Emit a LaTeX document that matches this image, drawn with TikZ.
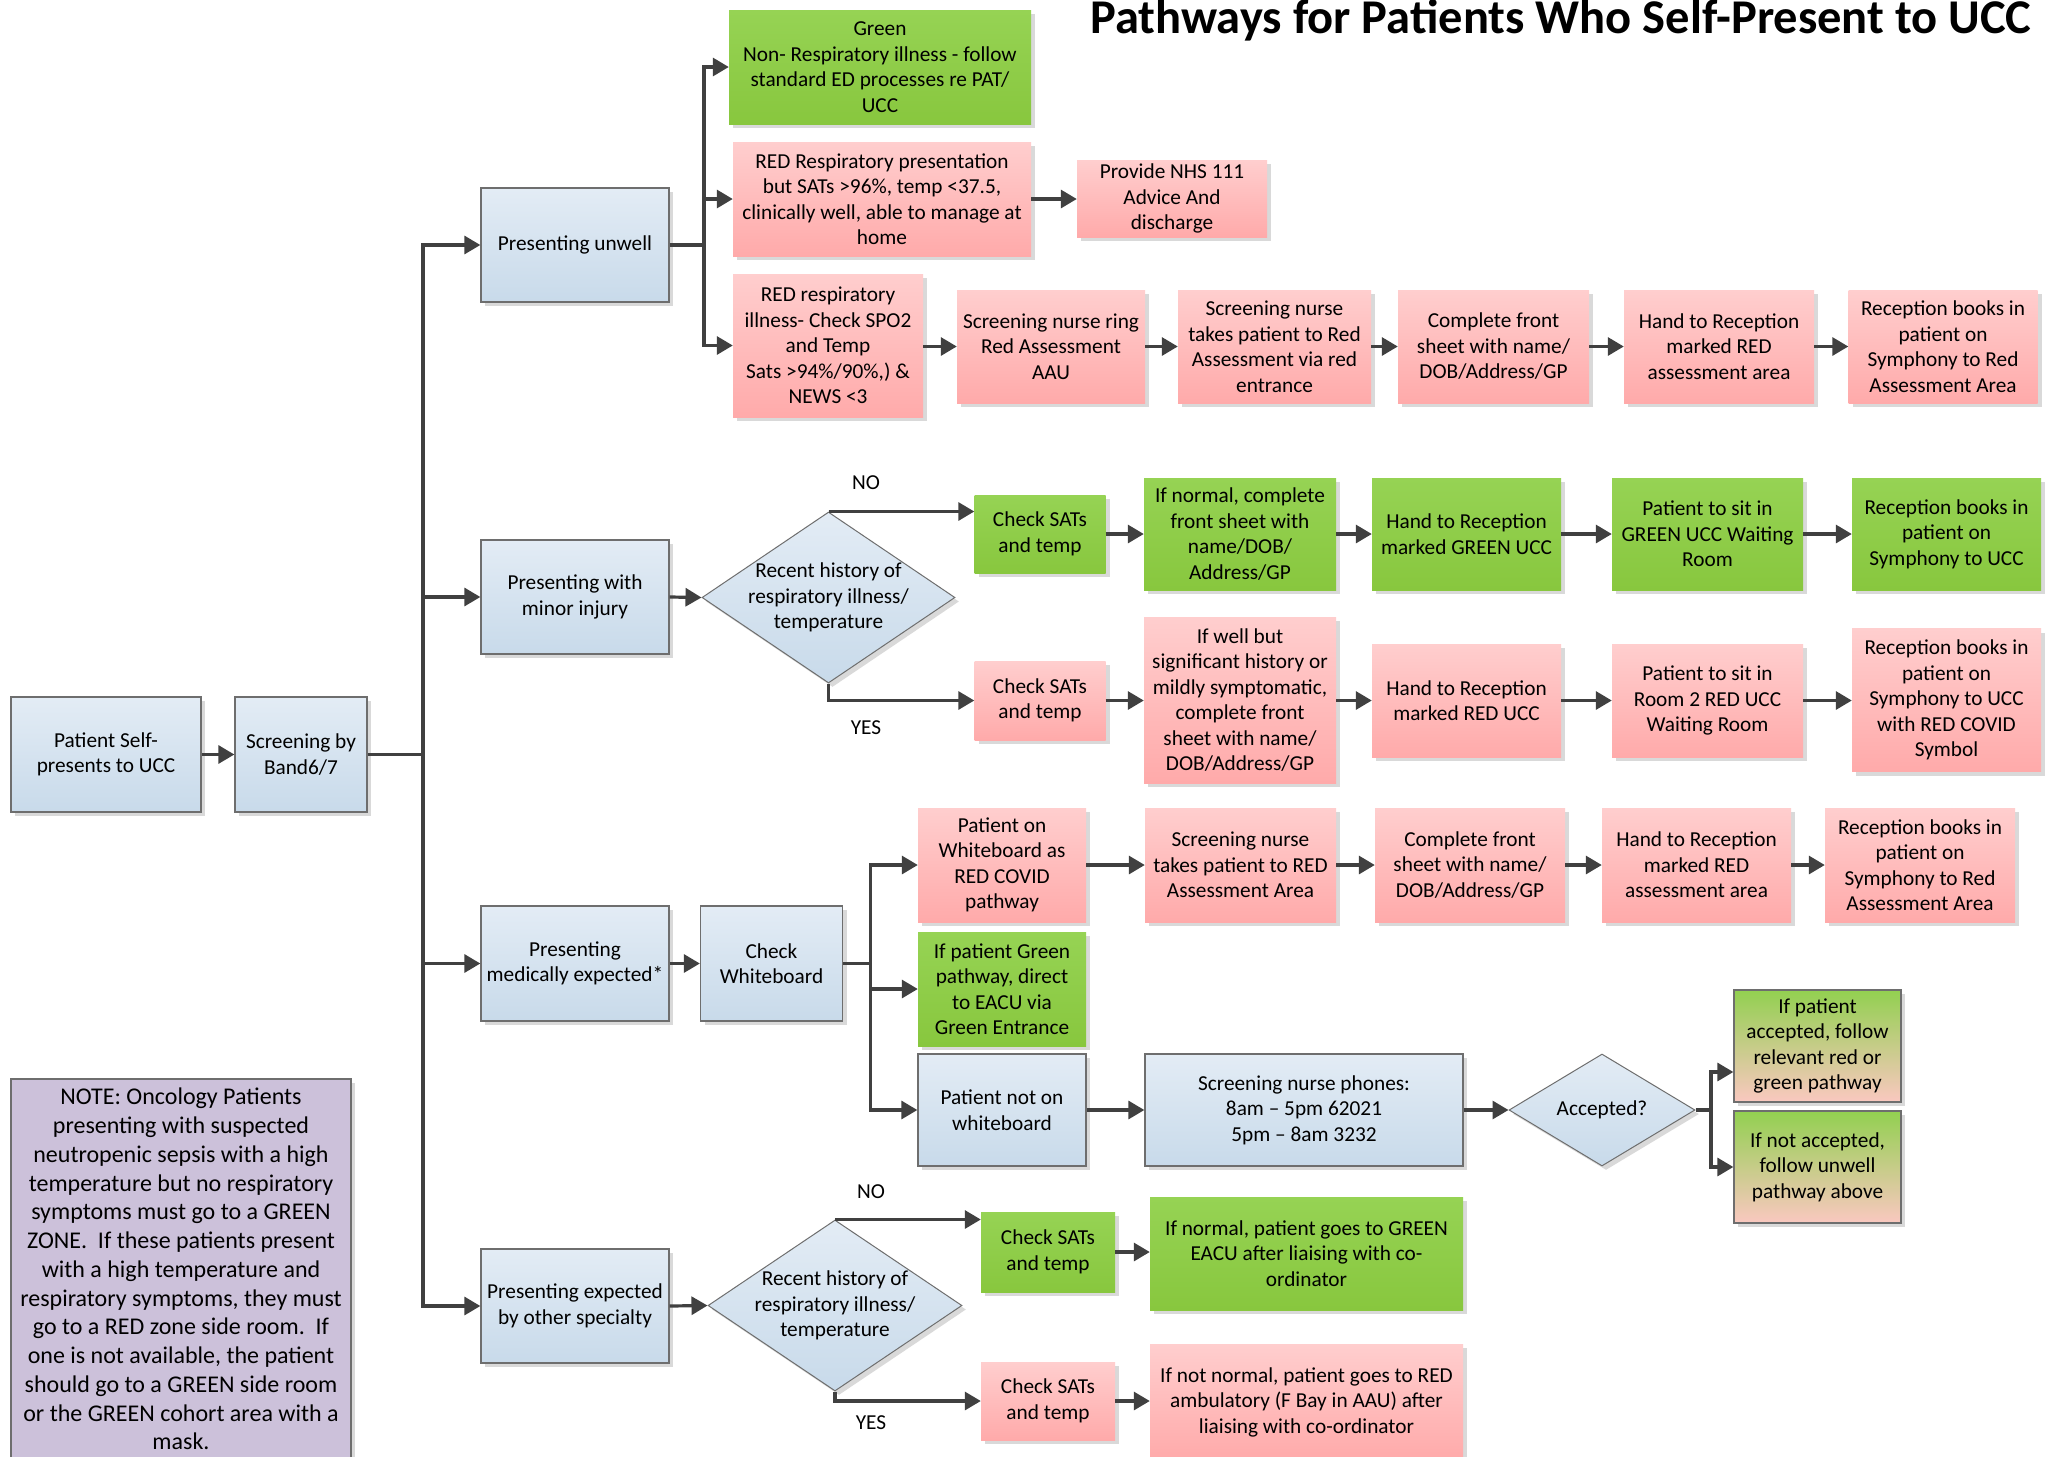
\documentclass[tikz,border=0pt]{standalone}
\usepackage{fontspec}
\setmainfont{Carlito}
\usetikzlibrary{shapes.geometric,arrows.meta,shadows}
\definecolor{bluetop}{RGB}{227,236,245}
\definecolor{bluebot}{RGB}{200,218,234}
\definecolor{bordergray}{RGB}{110,110,110}
\definecolor{greenfill}{RGB}{146,208,80}
\definecolor{greentop}{RGB}{150,211,84}
\definecolor{greenbot}{RGB}{136,199,62}
\definecolor{pinktop}{RGB}{255,206,206}
\definecolor{pinkbot}{RGB}{255,170,170}
\definecolor{mixbot}{RGB}{250,200,192}
\definecolor{notefill}{RGB}{204,193,218}
\definecolor{linegray}{RGB}{64,64,64}
\tikzset{
 shad/.style={drop shadow={shadow xshift=4pt,shadow yshift=-4pt,fill=black!15,opacity=1}},
 base/.style={rectangle, align=center, inner sep=2pt, font=\fontsize{21.3}{25.5}\selectfont, shad},
 bluebox/.style={base, top color=bluetop, bottom color=bluebot, draw=bordergray, line width=1.3pt},
 greenbox/.style={base, top color=greentop, bottom color=greenbot},
 pinkbox/.style={base, top color=pinktop, bottom color=pinkbot},
 mixbox/.style={base, top color=greenfill, bottom color=mixbot, draw=bordergray, line width=1.3pt},
 notebox/.style={base, fill=notefill, draw=bordergray, line width=1.3pt, font=\fontsize{24}{28.75}\selectfont},
 dia/.style={diamond, top color=bluetop, bottom color=bluebot, draw=bordergray, line width=1pt, inner sep=0pt, shad},
 txt/.style={align=center, inner sep=0pt, font=\fontsize{21.3}{25.5}\selectfont},
 arr/.style={draw=linegray, line width=3.2pt, -{Triangle[length=16pt,width=18pt]}},
 ln/.style={draw=linegray, line width=3.2pt},
 sz/.style 2 args={minimum width=#1pt, minimum height=#2pt},
}
\begin{document}
\begin{tikzpicture}[x=1pt,y=-1pt]
\useasboundingbox[fill=white] (0,0) rectangle (2057,1457);

\node[font=\fontsize{48.5}{56}\selectfont\bfseries, anchor=base, inner sep=0pt] (title) at (1561,33) {Pathways for Patients Who Self-Present to UCC};

% left
\node[bluebox, sz={190}{115}] (pself) at (106,754.5) {Patient Self-\\presents to UCC};
\node[bluebox, sz={132}{115}] (band) at (301,754.5) {Screening by\\Band6/7};

% presenting column
\node[bluebox, sz={188}{114}] (unwell) at (575,245) {Presenting unwell};
\node[bluebox, sz={188}{114}] (minor) at (575,597) {Presenting with\\minor injury};
\node[bluebox, sz={188}{115}] (medexp) at (575,963.5) {Presenting\\medically expected*};
\node[bluebox, sz={188}{114}] (other) at (575,1306) {Presenting expected\\by other specialty};

% unwell branch
\node[greenbox, sz={302}{114}] (green1) at (880,67) {Green\\Non- Respiratory illness - follow\\standard ED processes re PAT/\\UCC};
\node[pinkbox, sz={298}{114}] (redresp) at (882,199) {RED Respiratory presentation\\but SATs >96\%, temp <37.5,\\clinically well, able to manage at\\home};
\node[pinkbox, sz={190}{77}] (nhs) at (1172,198.5) {Provide NHS 111\\Advice And\\discharge};
\node[pinkbox, sz={190}{143}] (redill) at (828,345.5) {RED respiratory\\illness- Check SPO2\\and Temp\\Sats >94\%/90\%,) \&\\NEWS <3};
\node[pinkbox, sz={188}{113}] (ring) at (1051,346.5) {Screening nurse ring\\Red Assessment\\AAU};
\node[pinkbox, sz={193}{113}] (takes) at (1274.5,346.5) {Screening nurse\\takes patient to Red\\Assessment via red\\entrance};
\node[pinkbox, sz={191}{113}] (front1) at (1493.5,346.5) {Complete front\\sheet with name/\\DOB/Address/GP};
\node[pinkbox, sz={190}{113}] (hand1) at (1719,346.5) {Hand to Reception\\marked RED\\assessment area};
\node[pinkbox, sz={189}{113}] (recep1) at (1943,346.5) {Reception books in\\patient on\\Symphony to Red\\Assessment Area};

% minor injury branch
\node[dia, sz={253}{171}] (d1) at (828.5,597.5) {};
\node[txt] (d1t) at (d1.center) {Recent history of\\respiratory illness/\\temperature};
\node[txt] (no1) at (866,483) {NO};
\node[txt] (yes1) at (866,728) {YES};
\node[greenbox, sz={131}{78}] (chk1) at (1040,534) {Check SATs\\and temp};
\node[greenbox, sz={192}{112}] (normal1) at (1240,534) {If normal, complete\\front sheet with\\name/DOB/\\Address/GP};
\node[greenbox, sz={189}{112}] (handg) at (1466.5,534) {Hand to Reception\\marked GREEN UCC};
\node[greenbox, sz={191}{112}] (sitg) at (1707.5,534) {Patient to sit in\\GREEN UCC Waiting\\Room};
\node[greenbox, sz={189}{112}] (recepg) at (1946.5,534) {Reception books in\\patient on\\Symphony to UCC};
\node[pinkbox, sz={131}{79}] (chk2) at (1040,700.5) {Check SATs\\and temp};
\node[pinkbox, sz={192}{166}] (wellbut) at (1240,700) {If well but\\significant history or\\mildly symptomatic,\\complete front\\sheet with name/\\DOB/Address/GP};
\node[pinkbox, sz={189}{113}] (handr) at (1466.5,700.5) {Hand to Reception\\marked RED UCC};
\node[pinkbox, sz={191}{113}] (sitr) at (1707.5,700.5) {Patient to sit in\\Room 2 RED UCC\\Waiting Room};
\node[pinkbox, sz={189}{143}] (recepr) at (1946.5,700) {Reception books in\\patient on\\Symphony to UCC\\with RED COVID\\Symbol};

% medically expected branch
\node[bluebox, sz={142}{115}] (cwb) at (771.5,963.5) {Check\\Whiteboard};
\node[pinkbox, sz={168}{114}] (onwb) at (1002,865) {Patient on\\Whiteboard as\\RED COVID\\pathway};
\node[greenbox, sz={168}{114}] (greenp) at (1002,989) {If patient Green\\pathway, direct\\to EACU via\\Green Entrance};
\node[bluebox, sz={168}{112}] (notwb) at (1002,1110) {Patient not on\\whiteboard};
\node[pinkbox, sz={191}{114}] (takes2) at (1240.5,865) {Screening nurse\\takes patient to RED\\Assessment Area};
\node[pinkbox, sz={190}{114}] (front2) at (1470,865) {Complete front\\sheet with name/\\DOB/Address/GP};
\node[pinkbox, sz={189}{114}] (hand2) at (1696.5,865) {Hand to Reception\\marked RED\\assessment area};
\node[pinkbox, sz={190}{114}] (recep2) at (1920,865) {Reception books in\\patient on\\Symphony to Red\\Assessment Area};
\node[bluebox, sz={318}{112}] (phones) at (1304,1110) {Screening nurse phones:\\8am – 5pm 62021\\5pm – 8am 3232};
\node[dia, sz={186}{112}, font=\fontsize{21.3}{25.5}\selectfont] (accq) at (1602,1110) {Accepted?};
\node[mixbox, sz={167}{112}] (acc1) at (1817.5,1046) {If patient\\accepted, follow\\relevant red or\\green pathway};
\node[mixbox, sz={167}{112}] (acc2) at (1817.5,1167) {If not accepted,\\follow unwell\\pathway above};

% other specialty branch
\node[dia, sz={254}{171}] (d2) at (835,1305.5) {};
\node[txt] (d2t) at (d2.center) {Recent history of\\respiratory illness/\\temperature};
\node[txt] (no2) at (871,1192) {NO};
\node[txt] (yes2) at (871,1423) {YES};
\node[greenbox, sz={134}{80}] (chk3) at (1048,1252) {Check SATs\\and temp};
\node[greenbox, sz={313}{113}] (normal3) at (1306.5,1253.5) {If normal, patient goes to GREEN\\EACU after liaising with co-\\ordinator};
\node[pinkbox, sz={134}{78}] (chk4) at (1048,1401) {Check SATs\\and temp};
\node[pinkbox, sz={313}{116}] (notnorm) at (1306.5,1402) {If not normal, patient goes to RED\\ambulatory (F Bay in AAU) after\\liaising with co-ordinator};

% note
\node[notebox, sz={340}{380}] (note) at (181,1269) {NOTE: Oncology Patients\\presenting with suspected\\neutropenic sepsis with a high\\temperature but no respiratory\\symptoms must go to a GREEN\\ZONE.\ \ If these patients present\\with a high temperature and\\respiratory symptoms, they must\\go to a RED zone side room.\ \ If\\one is not available, the patient\\should go to a GREEN side room\\or the GREEN cohort area with a\\mask.};

% connectors
\coordinate (tr) at (423,754.5);
\draw[arr] (pself) -- (band);
\draw[ln] (band.east) -- (tr);
\draw[arr] (tr) |- (unwell.west);
\draw[arr] (tr) |- (minor.west);
\draw[arr] (tr) |- (medexp.west);
\draw[arr] (tr) |- (other.west);

\coordinate (ub) at (704,245);
\draw[ln] (unwell.east) -- (ub);
\draw[arr] (ub) |- (green1.west);
\draw[arr] (ub) |- (redresp.west);
\draw[arr] (ub) |- (redill.west);
\draw[arr] (redresp.east) -- (redresp.east -| nhs.west);
\draw[arr] (redill.east |- ring.west) -- (ring.west);
\draw[arr] (ring) -- (takes);
\draw[arr] (takes) -- (front1);
\draw[arr] (front1) -- (hand1);
\draw[arr] (hand1) -- (recep1);

\draw[arr] (minor.east) -- (d1.west);
\draw[arr] (d1.north) -- (d1.north -| chk1.west);
\draw[arr] (d1.south) |- (chk2.west);
\draw[arr] (chk1) -- (normal1);
\draw[arr] (normal1) -- (handg);
\draw[arr] (handg) -- (sitg);
\draw[arr] (sitg) -- (recepg);
\draw[arr] (chk2.east) -- (chk2.east -| wellbut.west);
\draw[arr] (wellbut.east |- handr.west) -- (handr.west);
\draw[arr] (handr) -- (sitr);
\draw[arr] (sitr.east) -- (sitr.east -| recepr.west);

\coordinate (wb) at (870.5,963.5);
\draw[arr] (medexp) -- (cwb);
\draw[ln] (cwb.east) -- (wb);
\draw[arr] (wb) |- (onwb.west);
\draw[arr] (wb) |- (greenp.west);
\draw[arr] (wb) |- (notwb.west);
\draw[arr] (onwb) -- (takes2);
\draw[arr] (takes2) -- (front2);
\draw[arr] (front2) -- (hand2);
\draw[arr] (hand2) -- (recep2);
\draw[arr] (notwb) -- (phones);
\draw[arr] (phones) -- (accq);
\coordinate (ab) at (1711,1110);
\draw[ln] (accq.east) -- (ab);
\draw[arr] (ab) |- ([yshift=-26pt]acc1.west);
\draw[arr] (ab) |- (acc2.west);

\draw[arr] (other.east) -- (d2.west);
\draw[arr] (d2.north) -- (d2.north -| chk3.west);
\draw[arr] (d2.south) |- (chk4.west);
\draw[arr] (chk3.east) -- (chk3.east -| normal3.west);
\draw[arr] (chk4.east) -- (chk4.east -| notnorm.west);
\end{tikzpicture}
\end{document}
